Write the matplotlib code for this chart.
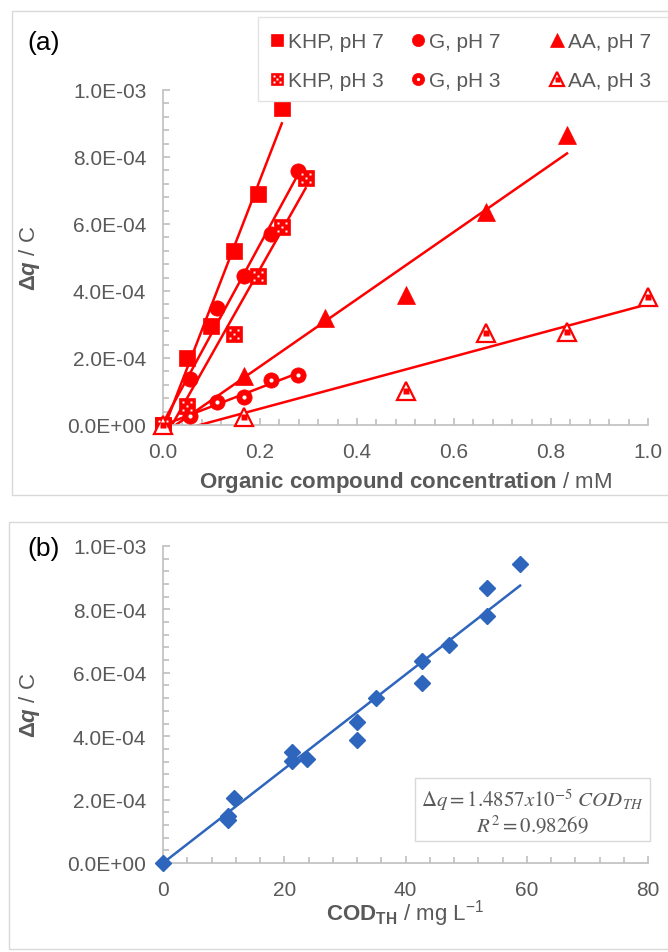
import matplotlib
matplotlib.use("Agg")
import matplotlib.pyplot as plt
import numpy as np
from matplotlib.path import Path
from matplotlib.patches import Rectangle
from matplotlib.ticker import MultipleLocator, FuncFormatter

plt.rcParams['font.family'] = ['Liberation Sans', 'DejaVu Sans']
plt.rcParams['mathtext.fontset'] = 'custom'
plt.rcParams['mathtext.rm'] = 'Liberation Sans'
plt.rcParams['mathtext.it'] = 'Liberation Sans:italic'
plt.rcParams['mathtext.bf'] = 'Liberation Sans:bold'
plt.rcParams['mathtext.bfit'] = 'Liberation Sans:italic:bold'

# panel (a): concentration in mM, charge in C
khp_x7 = [0, 0.049, 0.098, 0.147, 0.196, 0.245]
khp_y7 = [0, 2.00e-4, 2.96e-4, 5.20e-4, 6.90e-4, 9.45e-4]
khp_x3 = [0, 0.049, 0.147, 0.196, 0.245, 0.294]
khp_y3 = [0, 0.58e-4, 2.72e-4, 4.46e-4, 5.92e-4, 7.36e-4]
g_x = [0, 0.0555, 0.111, 0.1665, 0.222, 0.2775]
g_y7 = [0, 1.37e-4, 3.48e-4, 4.44e-4, 5.69e-4, 7.57e-4]
g_y3 = [0, 0.26e-4, 0.68e-4, 0.83e-4, 1.35e-4, 1.49e-4]
aa_x7 = [0, 0.167, 0.333, 0.5, 0.667, 0.833]
aa_y7 = [0, 1.47e-4, 3.18e-4, 3.89e-4, 6.35e-4, 8.65e-4]
aa_x3 = [0, 0.167, 0.5, 0.667, 0.833, 1.0]
aa_y3 = [0, 0.25e-4, 1.02e-4, 2.74e-4, 2.77e-4, 3.81e-4]

# panel (b): theoretical COD in mg/L
cod = [0, 10.7, 10.7, 11.7, 21.2, 21.2, 23.7, 31.95, 31.95, 35.1,
       42.7, 42.7, 47.1, 53.4, 53.4, 58.9]
dq = [0, 1.37e-4, 1.47e-4, 2.04e-4, 3.51e-4, 3.23e-4, 3.28e-4, 4.46e-4,
      3.88e-4, 5.20e-4, 6.38e-4, 5.67e-4, 6.89e-4, 8.67e-4, 7.78e-4, 9.43e-4]
slope_b = 1.4857e-5
r2_b = 0.98269

RED = '#ff0000'
BLUE = '#2e65bd'
GRAY = '#595959'
AXC = '#bfbfbf'

# white dots pattern for the "pH 3" squares (dice five)
dot_parts = []
for cx, cy in [(-1, -1), (-1, 1), (1, -1), (1, 1), (0, 0)]:
    h = 0.3
    dot_parts.append(Path([(cx - h, cy - h), (cx + h, cy - h), (cx + h, cy + h),
                           (cx - h, cy + h), (cx - h, cy - h)], closed=True))
dots = Path.make_compound_path(*dot_parts)

fig = plt.figure(figsize=(6.68, 9.53), dpi=100)

# panel frames
fig.add_artist(Rectangle((12 / 668, 1 - 496 / 953), 0.99, 484 / 953,
                         transform=fig.transFigure, fill=False, ec='#d9d9d9', lw=1))
fig.add_artist(Rectangle((9 / 668, 1 - 950 / 953), 0.99, 427 / 953,
                         transform=fig.transFigure, fill=False, ec='#d9d9d9', lw=1))
fig.add_artist(Rectangle((258 / 668, 1 - 102 / 953), 0.99, 84 / 953,
                         transform=fig.transFigure, fc='white', ec='#e3e3e3', lw=1, zorder=3))

ax1 = fig.add_axes([163 / 668, 1 - 426 / 953, 485 / 668, 335 / 953])
ax2 = fig.add_axes([163 / 668, 1 - 864 / 953, 485 / 668, 317 / 953])


def style(ax):
    for s in ['top', 'right']:
        ax.spines[s].set_visible(False)
    for s in ['left', 'bottom']:
        ax.spines[s].set_color(AXC)
        ax.spines[s].set_linewidth(1.2)
    ax.tick_params(which='both', direction='in', color=AXC, width=1.2,
                   labelsize=15, labelcolor=GRAY)
    ax.tick_params(which='major', length=5, pad=12)
    ax.tick_params(which='minor', length=4)
    ax.set_ylim(0, 1e-3)
    ax.yaxis.set_major_locator(MultipleLocator(2e-4))
    ax.yaxis.set_minor_locator(MultipleLocator(4e-5))
    ax.yaxis.set_major_formatter(FuncFormatter(lambda v, p: f"{v:.1E}"))
    ax.patch.set_alpha(0)


def series(ax, x, y, pH3, marker, ms, label):
    k, b = np.polyfit(x, y, 1)
    xs = np.array([min(x), max(x)])
    ax.plot(xs, k * xs + b, color=RED, lw=1.8, zorder=2)
    if marker == '^' and pH3:
        h1, = ax.plot(x, y, ls='none', marker='^', ms=ms, mfc='white', mec=RED,
                      mew=1.6, clip_on=False, zorder=3)
        h2, = ax.plot(x, y, ls='none', marker='s', ms=4.5, mfc=RED, mec='none',
                      clip_on=False, zorder=4)
        return (h1, h2), label
    h1, = ax.plot(x, y, ls='none', marker=marker, ms=ms, mfc=RED, mec=RED,
                  mew=0.5, clip_on=False, zorder=3)
    if not pH3:
        return h1, label
    if marker == 's':
        h2, = ax.plot(x, y, ls='none', marker=dots, ms=ms * 0.7, mfc='white',
                      mec='none', clip_on=False, zorder=4)
    else:
        h2, = ax.plot(x, y, ls='none', marker='o', ms=3, mfc='white',
                      mec='none', clip_on=False, zorder=4)
    return (h1, h2), label


style(ax1)
entries = [
    series(ax1, khp_x7, khp_y7, False, 's', 11, 'KHP, pH 7'),
    series(ax1, khp_x3, khp_y3, True, 's', 11, 'KHP, pH 3'),
    series(ax1, g_x, g_y7, False, 'o', 11, 'G, pH 7'),
    series(ax1, g_x, g_y3, True, 'o', 11, 'G, pH 3'),
    series(ax1, aa_x7, aa_y7, False, '^', 13, 'AA, pH 7'),
    series(ax1, aa_x3, aa_y3, True, '^', 13, 'AA, pH 3'),
]
ax1.set_xlim(0, 1)
ax1.xaxis.set_major_locator(MultipleLocator(0.2))
ax1.xaxis.set_minor_locator(MultipleLocator(0.04))
ax1.xaxis.set_major_formatter(FuncFormatter(lambda v, p: f"{v:.1f}"))
ax1.set_xlabel(r"$\mathbf{Organic\ compound\ concentration}$ / mM",
               fontsize=16, color=GRAY)
ax1.set_ylabel(r"$\mathbf{\Delta}\mathbfit{q}$ / C", fontsize=16, color=GRAY)
ax1.xaxis.set_label_coords(0.5, -0.13)
ax1.yaxis.set_label_coords(-0.25, 0.5)

# legend, one column per compound
for i, xa in enumerate([270, 411, 550]):
    hs = [entries[2 * i][0], entries[2 * i + 1][0]]
    ls = [entries[2 * i][1], entries[2 * i + 1][1]]
    leg = fig.legend(hs, ls, loc='upper left', bbox_to_anchor=(xa / 668, 1 - 33 / 953),
                     frameon=False, fontsize=15, labelcolor=GRAY, handlelength=0.7,
                     handletextpad=0.15, labelspacing=0.95, borderpad=0,
                     borderaxespad=0, markerscale=0.8)
    leg.set_zorder(5)

# panel (b)
style(ax2)
ax2.plot(cod, dq, ls='none', marker='D', ms=8.5, color=BLUE, clip_on=False, zorder=3)
xs = np.array([0, max(cod)])
ax2.plot(xs, slope_b * xs, color=BLUE, lw=1.8, zorder=2)
ax2.set_xlim(0, 80)
ax2.xaxis.set_major_locator(MultipleLocator(20))
ax2.xaxis.set_minor_locator(MultipleLocator(4))
ax2.set_xlabel(r"$\mathbf{COD_{TH}}$ / mg L$^{-1}$", fontsize=16, color=GRAY)
ax2.set_ylabel(r"$\mathbf{\Delta}\mathbfit{q}$ / C", fontsize=16, color=GRAY)
ax2.xaxis.set_label_coords(0.5, -0.108)
ax2.yaxis.set_label_coords(-0.25, 0.5)

eq = (r"$\mathit{\Delta q = %.4fx10^{-5}\ COD_{TH}}$" % (slope_b * 1e5) + "\n"
      + r"$\mathit{R^2 = %.5f}$" % r2_b)
ax2.text(0.762, 0.165, eq, transform=ax2.transAxes, ha='center', va='center',
         fontsize=15, color=GRAY, math_fontfamily='stix', linespacing=1.0,
         bbox=dict(boxstyle='square,pad=0.3', fc='white', ec='#d9d9d9', lw=1))

fig.text(27 / 668, 1 - 43 / 953, "(a)", fontsize=19, va='center', color='black')
fig.text(27 / 668, 1 - 549 / 953, "(b)", fontsize=19, va='center', color='black')

fig.savefig("out.png", dpi=100)
